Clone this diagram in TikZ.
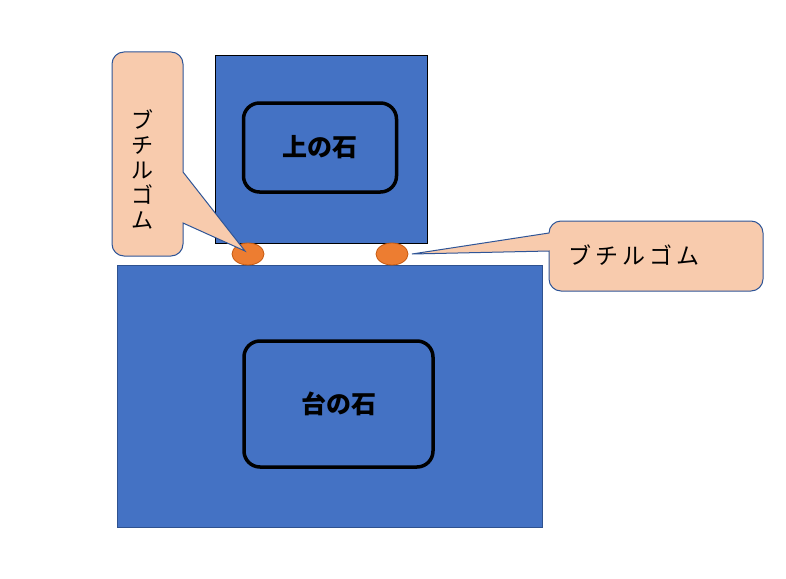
\documentclass[tikz,border=0pt]{standalone}
\usepackage{fontspec}
\newfontfamily\jp{Noto Sans CJK JP}
\usetikzlibrary{shapes.geometric}
\definecolor{stoneblue}{HTML}{4472C4}
\definecolor{stoneedge}{HTML}{2F528F}
\definecolor{gumfill}{HTML}{ED7D31}
\definecolor{gumedge}{HTML}{C55A11}
\definecolor{callfill}{HTML}{F8CBAD}
\definecolor{calledge}{HTML}{2F5597}
\tikzset{
  stone/.style={rectangle, fill=stoneblue, draw=#1, line width=1pt, inner sep=0pt},
  innerbox/.style={rectangle, rounded corners=16pt, draw=black, line width=3.5pt, inner sep=0pt, font=\jp\bfseries\fontsize{25}{30}\selectfont},
  gum/.style={ellipse, fill=gumfill, draw=gumedge, line width=0.8pt, inner sep=0pt, minimum width=32pt, minimum height=22pt},
  callout/.style={fill=callfill, draw=calledge, line width=1pt},
  calltext/.style={inner sep=0pt, align=center}
}
\begin{document}
\begin{tikzpicture}[x=1pt,y=-1pt]
\useasboundingbox[fill=white] (0,0) rectangle (786,578);
% stones
\node[stone=black, minimum width=212pt, minimum height=187pt] (upper) at (321,149.5) {};
\node[stone=stoneedge, minimum width=425pt, minimum height=262pt] (base) at (329.5,396) {};
\node[innerbox, minimum width=153pt, minimum height=89pt] (uppertext) at (320,147.5) {上の石};
\node[innerbox, minimum width=189pt, minimum height=126pt] (basetext) at (338.5,404) {台の石};
% gum
\node[gum] (gumL) at (248,254) {};
\node[gum] (gumR) at (392,254) {};
% left callout
\draw[callout] (147,52) [rounded corners=12pt] -- (183,52) [sharp corners] -- (183,172) -- (245,251) -- (183,223) [rounded corners=12pt] -- (183,256) -- (112,256) -- (112,52) -- cycle;
\node[calltext, font=\jp\fontsize{22}{25}\selectfont] (labelL) at (142,169) {ブ\\チ\\ル\\ゴ\\ム};
% right callout
\draw[callout] (656,221) [rounded corners=12pt] -- (763,221) -- (763,291) -- (549,291) [sharp corners] -- (549,251) -- (412,254) -- (549,233) [rounded corners=12pt] -- (549,221) -- cycle;
\node[calltext, font=\jp\fontsize{23}{26}\selectfont] (labelR) at (634,255) {ブ\hspace{4pt}チ\hspace{4pt}ル\hspace{4pt}ゴ\hspace{4pt}ム};
\end{tikzpicture}
\end{document}
